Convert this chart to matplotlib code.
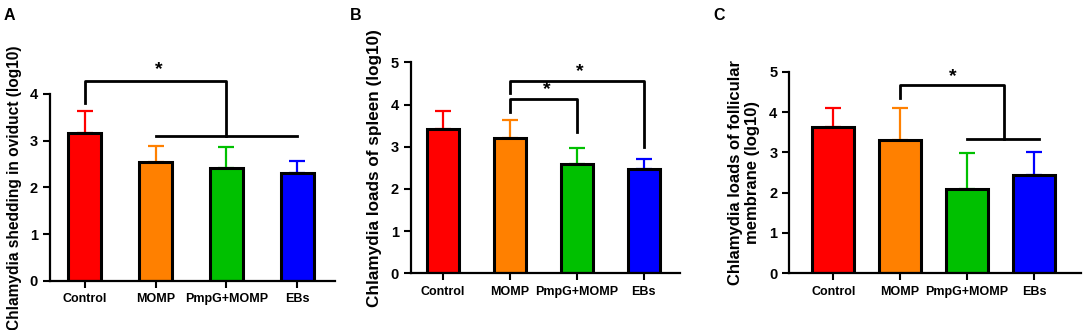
import matplotlib
matplotlib.use("Agg")
import matplotlib.pyplot as plt
import numpy as np

plt.rcParams['font.family'] = ['Liberation Sans', 'DejaVu Sans']
plt.rcParams['font.weight'] = 'bold'

groups = ['Control', 'MOMP', 'PmpG+MOMP', 'EBs']
colors = ['#FF0000', '#FF8000', '#00C000', '#0000FF']

# panel A: shedding in oviduct
oviduct_mean = [3.16, 2.54, 2.41, 2.30]
oviduct_top = [3.64, 2.89, 2.86, 2.56]
# panel B: spleen
spleen_mean = [3.42, 3.20, 2.58, 2.47]
spleen_top = [3.85, 3.64, 2.98, 2.70]
# panel C: follicular membrane
follicle_mean = [3.62, 3.30, 2.10, 2.43]
follicle_top = [4.09, 4.09, 2.98, 3.02]

fig = plt.figure(figsize=(10.84, 3.3), dpi=100)


def bar_panel(rect, means, tops, ymax, ylabel, width, xlim, label_x, label_size):
    ax = fig.add_axes(rect)
    x = np.arange(len(groups))
    err = np.array(tops) - np.array(means)
    for i in range(len(groups)):
        ax.errorbar(x[i], means[i], yerr=[[0], [err[i]]], color=colors[i],
                    lw=1.6, capsize=6, capthick=1.6, zorder=1)
    ax.bar(x, means, width=width, color=colors, edgecolor='black', lw=2.2, zorder=2)
    ax.set_xlim(*xlim)
    ax.set_ylim(0, ymax)
    ax.set_yticks(range(ymax + 1))
    ax.set_xticks(x)
    ax.set_xticklabels(groups, fontsize=9, fontweight='bold')
    ax.tick_params(axis='y', labelsize=10.5, width=1.5, length=5)
    ax.tick_params(axis='x', width=1.5, length=5, pad=4)
    for lab in ax.get_yticklabels():
        lab.set_fontweight('bold')
    for s in ['top', 'right']:
        ax.spines[s].set_visible(False)
    for s in ['left', 'bottom']:
        ax.spines[s].set_linewidth(1.6)
    ax.set_ylabel(ylabel, fontsize=label_size, fontweight='bold')
    ax.yaxis.set_label_coords(label_x, 0.5)
    return ax


def bracket(ax, x1, x2, y1, ytop, y2, star_x, star_y):
    ax.plot([x1, x1, x2, x2], [y1, ytop, ytop, y2], color='black', lw=2, clip_on=False)
    ax.text(star_x, star_y, '*', ha='center', va='center', fontsize=14,
            fontweight='bold', clip_on=False)


axA = bar_panel([0.046, 0.1485, 0.263, 0.5676], oviduct_mean, oviduct_top, 4,
                'Chlamydia shedding in oviduct (log10)', 0.47, (-0.49, 3.53), -0.098, 11.2)
bracket(axA, 0, 2, 3.80, 4.27, 3.10, 1.05, 4.52)
axA.plot([1, 3], [3.10, 3.10], color='black', lw=2, clip_on=False)

axB = bar_panel([0.379, 0.1718, 0.248, 0.639], spleen_mean, spleen_top, 5,
                'Chlamydia loads of spleen (log10)', 0.48, (-0.48, 3.54), -0.108, 12.3)
bracket(axB, 1, 2, 3.82, 4.13, 3.36, 1.55, 4.35)
bracket(axB, 1, 3, 4.27, 4.56, 3.0, 2.05, 4.78)

axC = bar_panel([0.728, 0.1718, 0.269, 0.611], follicle_mean, follicle_top, 5,
                'Chlamydia loads of follicular\nmembrane (log10)', 0.63, (-0.66, 3.70), -0.099, 12)
bracket(axC, 1, 2.55, 4.34, 4.66, 3.32, 1.78, 4.89)
axC.plot([2, 3.08], [3.32, 3.32], color='black', lw=2, clip_on=False)

for label, xpos in [('A', 0.003), ('B', 0.323), ('C', 0.658)]:
    fig.text(xpos, 0.975, label, fontsize=11.5, fontweight='bold', va='top', ha='left')

fig.savefig('out.png', dpi=100)
